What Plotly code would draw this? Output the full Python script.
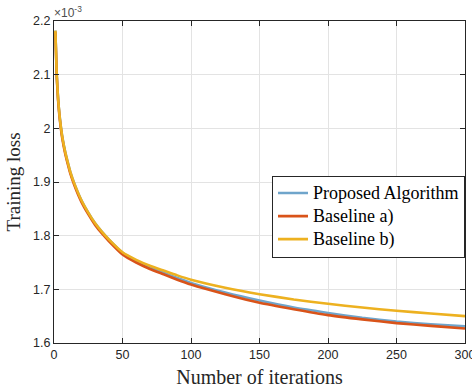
import plotly.graph_objects as go

# Iterations sampled along the curves
iterations = [1, 2, 3, 4, 5, 6, 8, 10, 12, 15, 20, 25, 30, 35, 40, 50, 60, 70, 80, 90,
              100, 125, 150, 175, 200, 225, 250, 275, 300]

# Training loss, in units of 1e-3
proposed = [2.182, 2.100, 2.055, 2.025, 2.003, 1.985, 1.958, 1.937, 1.918, 1.896, 1.866, 1.843,
            1.823, 1.807, 1.793, 1.768, 1.753, 1.741, 1.731, 1.721,
            1.712, 1.694, 1.679, 1.666, 1.656, 1.647, 1.640, 1.635, 1.631]
baseline_a = [2.180, 2.097, 2.052, 2.022, 2.000, 1.982, 1.955, 1.934, 1.915, 1.893, 1.863, 1.840,
              1.820, 1.804, 1.790, 1.765, 1.750, 1.738, 1.728, 1.718,
              1.709, 1.691, 1.675, 1.663, 1.652, 1.644, 1.637, 1.632, 1.627]
baseline_b = [2.182, 2.100, 2.055, 2.025, 2.003, 1.985, 1.958, 1.937, 1.918, 1.896, 1.866, 1.843,
              1.823, 1.807, 1.793, 1.769, 1.755, 1.744, 1.735, 1.726,
              1.718, 1.703, 1.691, 1.681, 1.673, 1.666, 1.660, 1.655, 1.650]

series_names = ["Proposed Algorithm", "Baseline a)", "Baseline b)"]
series_colors = ["#6FA5CB", "#D95319", "#EDB120"]

fig = go.Figure()
for name, vals, col in zip(series_names, [proposed, baseline_a, baseline_b], series_colors):
    fig.add_trace(go.Scatter(x=iterations, y=vals, mode="lines",
                             name=f'<span style="font-size:18px">{name}</span>',
                             line=dict(color=col, width=2.6, shape="spline", smoothing=0.5)))

axis_common = dict(showline=True, linecolor="#262626", linewidth=1, mirror="ticks",
                   ticks="inside", ticklen=5, tickcolor="#262626", automargin=False,
                   ticklabeloverflow="allow",
                   showgrid=True, gridcolor="#E3E3E3", gridwidth=1, zeroline=False,
                   tickfont=dict(family="Liberation Sans, Arial", size=12.5, color="#262626"))

fig.update_xaxes(range=[0, 300], dtick=50, tick0=0,
                 title=dict(text="Number of iterations", standoff=8,
                            font=dict(family="Liberation Serif, Times New Roman", size=20, color="#262626")),
                 **axis_common)
fig.update_yaxes(range=[1.6, 2.2], dtick=0.1, tick0=1.6,
                 title=dict(text="Training loss", standoff=7,
                            font=dict(family="Liberation Serif, Times New Roman", size=19, color="#262626")),
                 **axis_common)

fig.add_annotation(xref="paper", yref="paper", x=0, y=1, xanchor="left", yanchor="bottom",
                   text="×10<sup>-3</sup>", showarrow=False, xshift=-2, yshift=-1,
                   font=dict(family="Liberation Sans, Arial", size=12, color="#4D4D4D"))

fig.update_layout(
    width=472, height=390,
    margin=dict(l=54, r=7, t=21, b=47, autoexpand=False),
    plot_bgcolor="white", paper_bgcolor="white",
    showlegend=True,
    legend=dict(x=1, y=0.52, xanchor="right", yanchor="top",
                bgcolor="white", bordercolor="#262626", borderwidth=1,
                font=dict(family="Liberation Serif, Times New Roman", size=15.4, color="black"),
                tracegroupgap=0),
)

fig.write_html("out.html", config={"displayModeBar": False},
               post_script="document.body.style.margin='0px';document.body.style.overflow='hidden';")
